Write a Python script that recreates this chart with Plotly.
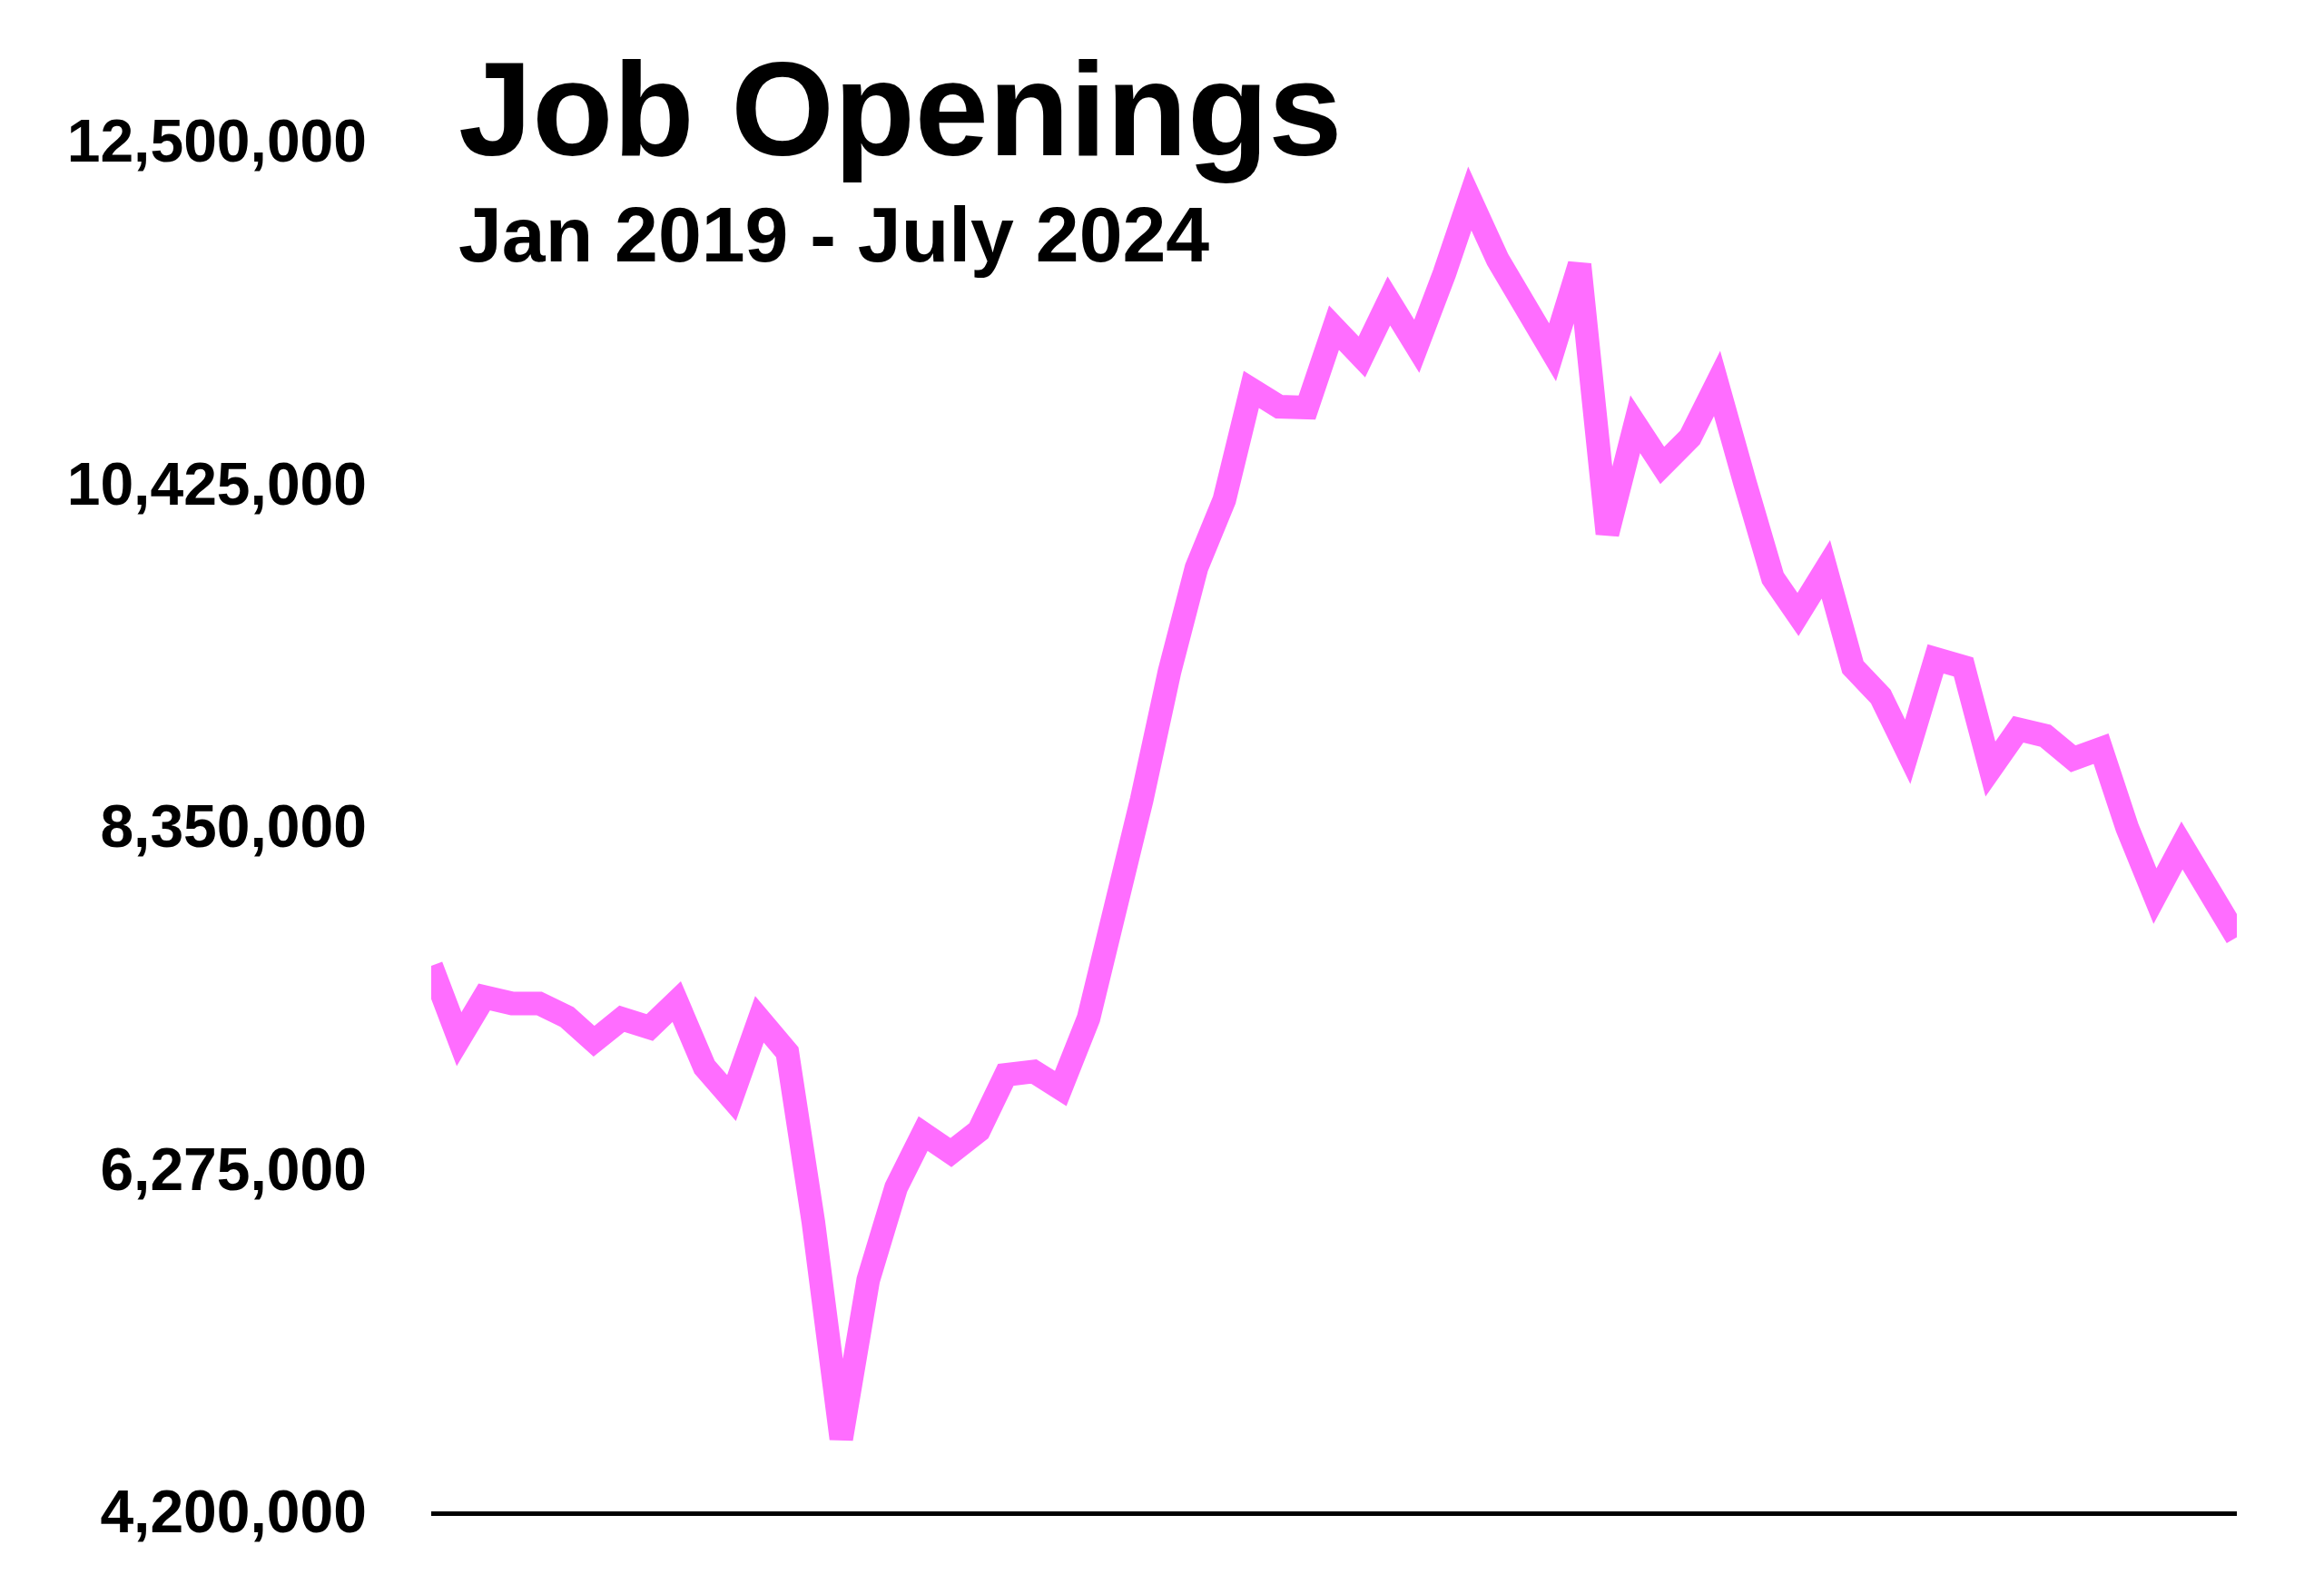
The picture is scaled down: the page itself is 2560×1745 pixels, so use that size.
import pandas as pd
import plotly.graph_objects as go

# Monthly job openings, Jan 2019 - Jul 2024
months = pd.date_range("2019-01-01", periods=67, freq="MS")
openings = [
    7503000, 7060000, 7315000, 7276000, 7276000, 7194000, 7047000, 7183000, 7130000, 7287000, 6890000, 6703000,
    7180000, 6980000, 5950000, 4640000, 5602000, 6161000, 6488000, 6373000, 6505000, 6844000, 6864000, 6761000,
    7186000, 7833000, 8506000, 9284000, 9913000, 10325000, 10994000, 10889000, 10884000, 11368000, 11191000, 11530000,
    11255000, 11700000, 12150000, 11780000, 11470000, 11219000, 11750000, 10120000, 10783000, 10534000, 10703000, 11030000,
    10428000, 9852000, 9631000, 9904000, 9312000, 9134000, 8800000, 9362000, 9313000, 8695000, 8936000, 8897000,
    8757000, 8818000, 8341000, 7926000, 8232000, 7931000, 7677000,
]
tick_values = [4200000, 6275000, 8350000, 10425000, 12500000]
tick_labels = ["4,200,000", "6,275,000", "8,350,000", "10,425,000", "12,500,000"]
title_text = "Job Openings"
subtitle_text = "Jan 2019 - July 2024"

FONT = "Liberation Sans, Arial, Helvetica, sans-serif"

fig = go.Figure()
fig.add_trace(go.Scatter(
    x=months, y=openings, mode="lines",
    line=dict(color="#ff6dff", width=26),
    cliponaxis=False, hoverinfo="skip", showlegend=False,
))

fig.update_layout(
    width=2560, height=1745,
    margin=dict(l=475, r=96, t=155, b=80),
    paper_bgcolor="white", plot_bgcolor="white",
    font=dict(family=FONT, color="black"),
    xaxis=dict(
        range=[months[0], months[-1]],
        showgrid=False, zeroline=False, showticklabels=False, ticks="",
        showline=True, linecolor="black", linewidth=5,
    ),
    yaxis=dict(
        range=[tick_values[0], tick_values[-1]],
        tickvals=tick_values, ticktext=tick_labels,
        showgrid=False, zeroline=False, showline=False, ticks="",
        tickfont=dict(family=FONT, size=66, color="black", weight=700),
        ticklabelstandoff=70,
    ),
    annotations=[
        dict(text=title_text, xref="paper", yref="paper", x=0.014, y=1.023,
             xanchor="left", yanchor="middle", showarrow=False,
             font=dict(family=FONT, size=146, color="black", weight=700)),
        dict(text=subtitle_text, xref="paper", yref="paper", x=0.014, y=0.932,
             xanchor="left", yanchor="middle", showarrow=False,
             font=dict(family=FONT, size=86, color="black", weight=700)),
    ],
)

post = (
    "document.body.style.margin='0';document.body.style.overflow='hidden';"
    "document.querySelectorAll('.scatterlayer path.js-line').forEach(function(p){"
    "p.style.strokeLinejoin='miter';p.style.strokeMiterlimit='4';});"
)
fig.write_html("out.html", config={"displayModeBar": False}, post_script=post)
